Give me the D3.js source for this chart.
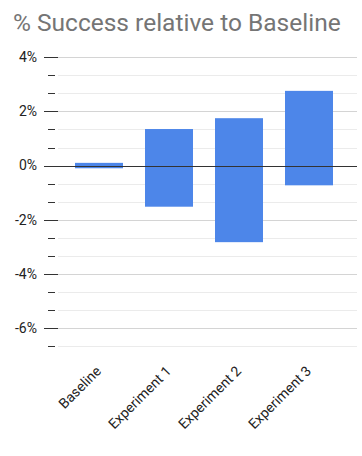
<!DOCTYPE html>
<html>
<head>
<meta charset="utf-8">
<script src="https://cdn.jsdelivr.net/npm/d3@7"></script>
<style>
  body { margin: 0; background: #fff; }
  svg { display: block; font-family: Roboto, Arial, sans-serif; }
</style>
</head>
<body>
<svg id="chart" width="362" height="456"></svg>
<script>
// data (percent, relative to baseline)
const categories = ["Baseline", "Experiment 1", "Experiment 2", "Experiment 3"];
const lowValues = [-0.1, -1.52, -2.83, -0.73];
const highValues = [0.1, 1.35, 1.75, 2.76];
const majorTicks = [4, 2, 0, -2, -4, -6];
const minorTicks = [10 / 3, 8 / 3, 4 / 3, 2 / 3, -2 / 3, -4 / 3, -8 / 3, -10 / 3, -16 / 3, -14 / 3, -20 / 3];

const svg = d3.select("#chart");

const y = d3.scaleLinear().domain([-20 / 3, 4]).range([346, 57.3]);
const x = d3.scaleBand().domain(categories).range([64, 344]).paddingInner(22 / 70).paddingOuter(11 / 70);

const gridLeft = 58, gridRight = 357;

// title
svg.append("text")
  .attr("x", 13)
  .attr("y", 31)
  .style("font-size", "24.5px")
  .style("fill", "#757575")
  .text("% Success relative to Baseline");

// gridlines
svg.append("g").selectAll("line")
  .data(minorTicks)
  .join("line")
  .attr("x1", gridLeft).attr("x2", gridRight)
  .attr("y1", d => Math.round(y(d)) + 0.5).attr("y2", d => Math.round(y(d)) + 0.5)
  .attr("stroke", "#ebebeb");

svg.append("g").selectAll("line")
  .data(majorTicks.filter(d => d !== 0))
  .join("line")
  .attr("x1", gridLeft).attr("x2", gridRight)
  .attr("y1", d => Math.round(y(d)) + 0.5).attr("y2", d => Math.round(y(d)) + 0.5)
  .attr("stroke", "#d4d4d4");

// tick marks
svg.append("g").selectAll("line")
  .data(minorTicks)
  .join("line")
  .attr("x1", 48).attr("x2", 55)
  .attr("y1", d => Math.round(y(d)) + 0.5).attr("y2", d => Math.round(y(d)) + 0.5)
  .attr("stroke", "#333");

svg.append("g").selectAll("line")
  .data(majorTicks)
  .join("line")
  .attr("x1", 44).attr("x2", gridLeft)
  .attr("y1", d => Math.round(y(d)) + 0.5).attr("y2", d => Math.round(y(d)) + 0.5)
  .attr("stroke", "#333");

// y labels
svg.append("g").selectAll("text")
  .data(majorTicks)
  .join("text")
  .attr("x", 37)
  .attr("y", d => y(d))
  .attr("dy", "0.35em")
  .attr("text-anchor", "end")
  .style("font-size", "14px")
  .style("fill", "#222")
  .text(d => d + "%");

// bars (floating, low..high)
svg.append("g").selectAll("rect")
  .data(categories)
  .join("rect")
  .attr("x", d => x(d))
  .attr("width", x.bandwidth())
  .attr("y", (d, i) => y(highValues[i]))
  .attr("height", (d, i) => y(lowValues[i]) - y(highValues[i]))
  .attr("fill", "#4d86e9");

// zero line on top
svg.append("line")
  .attr("x1", gridLeft).attr("x2", gridRight)
  .attr("y1", Math.round(y(0)) + 0.5).attr("y2", Math.round(y(0)) + 0.5)
  .attr("stroke", "#333");

// x labels, rotated
svg.append("g").selectAll("text")
  .data(categories)
  .join("text")
  .attr("transform", d => `translate(${x(d) + x.bandwidth() / 2 + 3},${372}) rotate(-45)`)
  .attr("text-anchor", "end")
  .style("font-size", "14px")
  .style("fill", "#222")
  .text(d => d);
</script>
</body>
</html>
